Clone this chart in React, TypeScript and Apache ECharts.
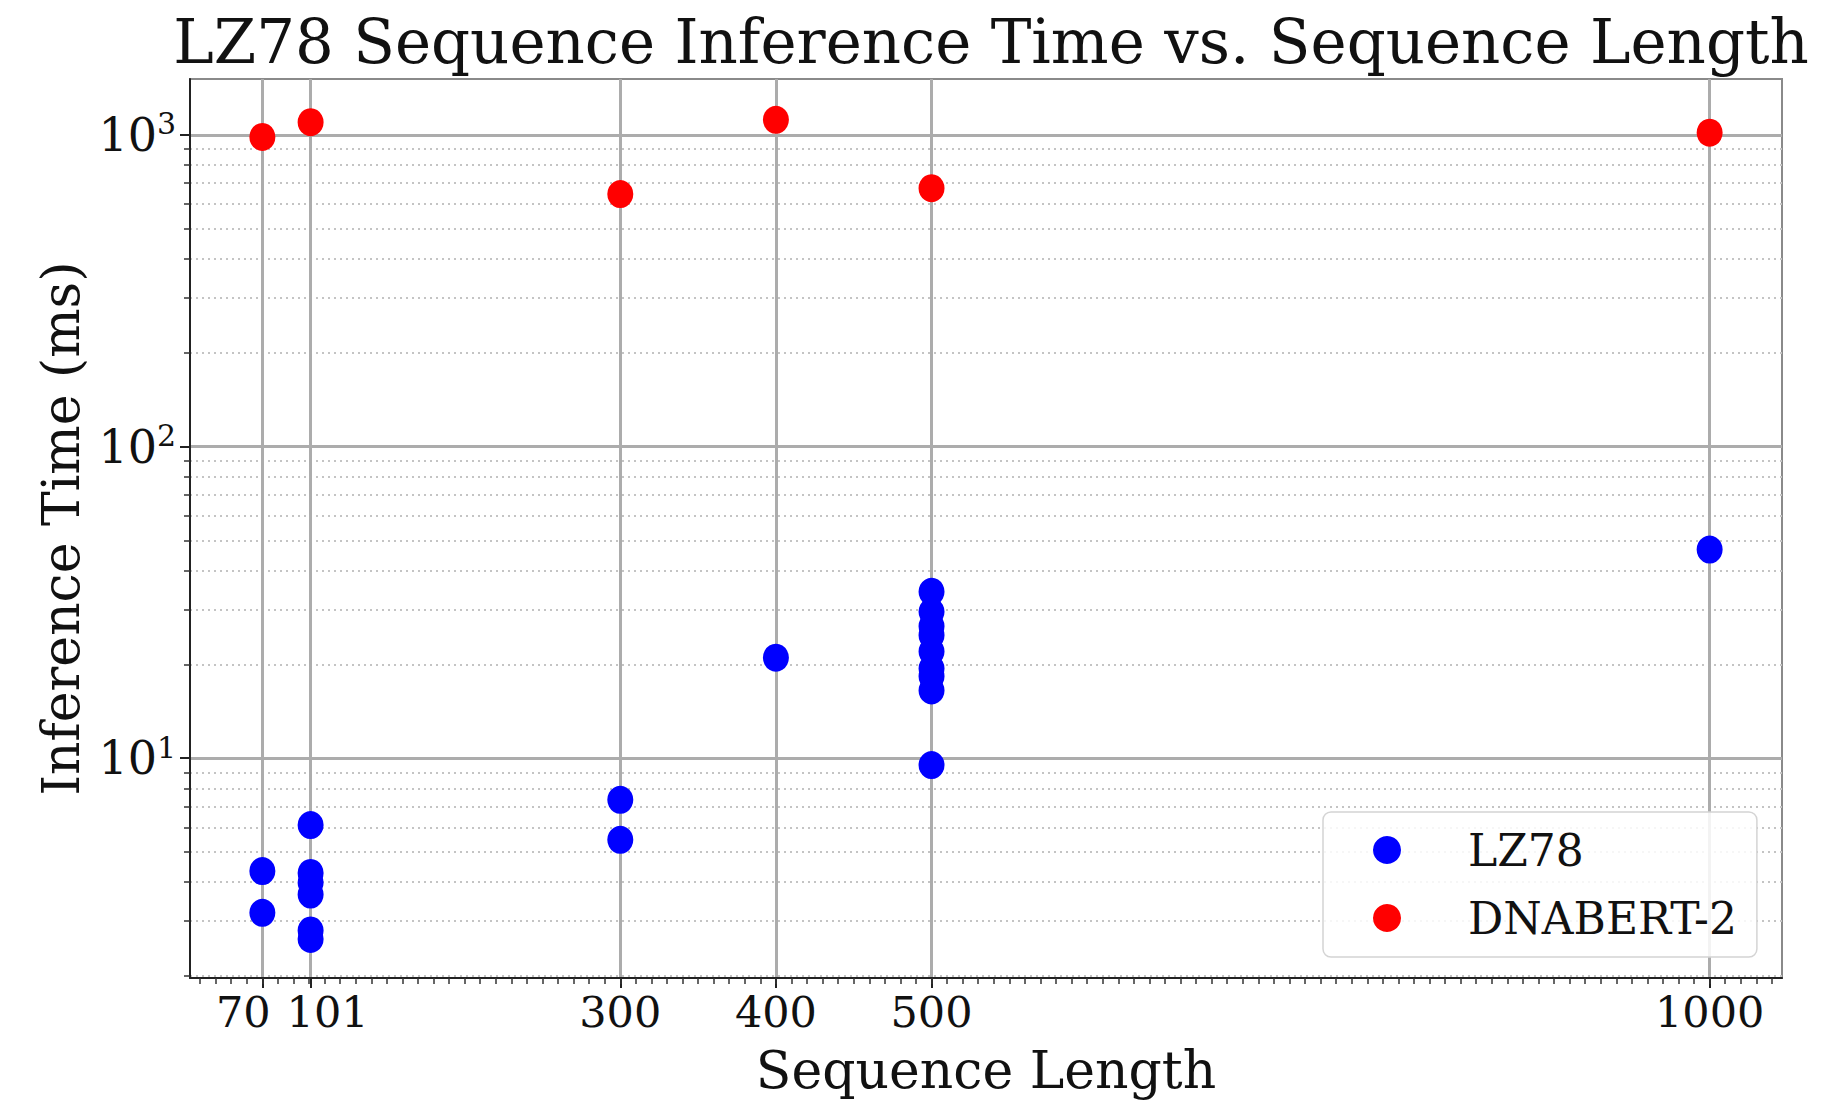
import React, { useEffect, useRef } from "react";
import * as echarts from "echarts";

// ---- data ----
const lz78Lengths = [70, 70, 101, 101, 101, 101, 101, 101, 300, 300, 400, 500, 500, 500, 500, 500, 500, 500, 500, 500, 1000];
const lz78Times = [4.34, 3.19, 6.1, 4.28, 3.98, 3.65, 2.8, 2.63, 7.35, 5.47, 21.0, 34.2, 29.5, 26.5, 24.8, 22.0, 19.4, 18.3, 16.5, 9.5, 46.7];
const dnabertLengths = [70, 101, 300, 400, 500, 1000];
const dnabertTimes = [985, 1099, 646, 1118, 675, 1017];

const xTickValues = [70, 101, 300, 400, 500, 1000];
const yMajorValues = [10, 100, 1000];
const yMinorValues = [2, 3, 4, 5, 6, 7, 8, 9, 20, 30, 40, 50, 60, 70, 80, 90, 200, 300, 400, 500, 600, 700, 800, 900];
const xMinorValues: number[] = [30, 40, 50, 60, 70, 80, 90, 100, 110, 120, 130, 140, 150, 160, 170, 180, 190, 200, 210, 220, 230, 240, 250, 260, 270, 280, 290, 300, 310, 320, 330, 340, 350, 360, 370, 380, 390, 400, 410, 420, 430, 440, 450, 460, 470, 480, 490, 500, 510, 520, 530, 540, 550, 560, 570, 580, 590, 600, 610, 620, 630, 640, 650, 660, 670, 680, 690, 700, 710, 720, 730, 740, 750, 760, 770, 780, 790, 800, 810, 820, 830, 840, 850, 860, 870, 880, 890, 900, 910, 920, 930, 940, 950, 960, 970, 980, 990, 1000, 1010, 1020, 1030, 1040];

const X_MIN = 23.5;
const X_MAX = 1046.5;
const Y_MIN = 1.97;
const Y_MAX = 1512;

const FONT = "DejaVu Serif";

export default function App() {
  const ref = useRef<HTMLDivElement>(null);
  useEffect(() => {
    if (!ref.current) return;
    const chart = echarts.init(ref.current, null, { renderer: "svg" });
    const lz = lz78Lengths.map((x, i) => [x, lz78Times[i]]);
    const dn = dnabertLengths.map((x, i) => [x, dnabertTimes[i]]);
    const tickText = { fontFamily: FONT, fontSize: 43, color: "#111" };
    chart.setOption({
      animation: false,
      backgroundColor: "#ffffff",
      title: {
        text: "LZ78 Sequence Inference Time vs. Sequence Length",
        left: 986,
        textAlign: "center",
        top: 6,
        textStyle: { fontFamily: FONT, fontSize: 61, fontWeight: "normal", color: "#111" },
      },
      grid: {
        left: 190,
        right: 41,
        top: 79,
        bottom: 121,
        show: true,
        borderColor: "#8a8a8a",
        borderWidth: 2,
        backgroundColor: "#ffffff",
      },
      legend: {
        orient: "vertical",
        left: 1323,
        top: 812,
        icon: "circle",
        itemWidth: 28,
        itemHeight: 28,
        itemGap: 18,
        padding: [13, 20, 14, 50],
        backgroundColor: "rgba(255,255,255,0.85)",
        borderColor: "#d4d4d4",
        borderWidth: 1.5,
        borderRadius: 8,
        textStyle: { fontFamily: FONT, fontSize: 44, color: "#111", lineHeight: 50, padding: [0, 0, 0, 62] },
        data: ["LZ78", "DNABERT-2"],
      },
      xAxis: [
        {
          type: "value",
          min: X_MIN,
          max: X_MAX,
          name: "Sequence Length",
          nameLocation: "middle",
          nameGap: 66,
          nameTextStyle: { fontFamily: FONT, fontSize: 52, color: "#111" },
          axisLine: { show: true, lineStyle: { color: "#222", width: 2 } },
          axisTick: { show: true, customValues: xTickValues, length: 10, lineStyle: { color: "#222", width: 2 } },
          axisLabel: {
            customValues: xTickValues,
            interval: 0,
            hideOverlap: false,
            showMinLabel: true,
            showMaxLabel: true,
            formatter: (v: number) => {
              if (v === 70) return `{l|${v}}`;
              if (v === 101) return `{r|${v}}`;
              return `{n|${v}}`;
            },
            rich: {
              l: { ...tickText, padding: [0, 38, 0, 0] },
              r: { ...tickText, padding: [0, 0, 0, 34] },
              n: { ...tickText },
            },
            margin: 12,
          },
          splitLine: { show: true, lineStyle: { color: "#acacac", width: 3 } },
        },
        {
          type: "value",
          min: X_MIN,
          max: X_MAX,
          position: "bottom",
          axisLine: { show: false },
          axisTick: { show: true, customValues: xMinorValues, length: 6, lineStyle: { color: "#333", width: 1.5 } },
          axisLabel: { show: false },
          splitLine: { show: false },
        },
      ],
      yAxis: [
        {
          type: "log",
          logBase: 10,
          min: Y_MIN,
          max: Y_MAX,
          name: "Inference Time (ms)",
          nameLocation: "middle",
          nameGap: 101,
          nameTextStyle: { fontFamily: FONT, fontSize: 52, color: "#111" },
          axisLine: { show: true, lineStyle: { color: "#222", width: 2 } },
          axisTick: { show: true, customValues: yMajorValues, length: 10, lineStyle: { color: "#222", width: 2 } },
          axisLabel: {
            customValues: yMajorValues,
            margin: 14,
            formatter: (v: number) => `{b|10}{s|${Math.round(Math.log10(v))}}`,
            rich: {
              b: { fontFamily: FONT, fontSize: 46, color: "#111", lineHeight: 52 },
              s: { fontFamily: FONT, fontSize: 30, color: "#111", verticalAlign: "top", lineHeight: 30 },
            },
          },
          splitLine: { show: true, lineStyle: { color: "#acacac", width: 3 } },
        },
        {
          type: "log",
          logBase: 10,
          min: Y_MIN,
          max: Y_MAX,
          position: "left",
          axisLine: { show: false },
          axisTick: { show: true, customValues: yMinorValues, length: 6, lineStyle: { color: "#333", width: 1.5 } },
          axisLabel: { show: false },
          splitLine: { show: true, lineStyle: { color: "#c4c4c4", width: 2, type: [2, 4] } },
        },
      ],
      series: [
        {
          name: "LZ78",
          type: "scatter",
          xAxisIndex: 0,
          yAxisIndex: 0,
          symbol: "circle",
          symbolSize: [26, 28],
          itemStyle: { color: "#0000ff", opacity: 1 },
          data: lz,
          z: 5,
        },
        {
          name: "DNABERT-2",
          type: "scatter",
          xAxisIndex: 0,
          yAxisIndex: 0,
          symbol: "circle",
          symbolSize: [26, 28],
          itemStyle: { color: "#ff0000", opacity: 1 },
          data: dn,
          z: 5,
        },
      ],
    });
    return () => chart.dispose();
  }, []);
  return <div ref={ref} style={{ position: "absolute", left: 0, top: 0, width: 1823, height: 1101 }} />;
}
